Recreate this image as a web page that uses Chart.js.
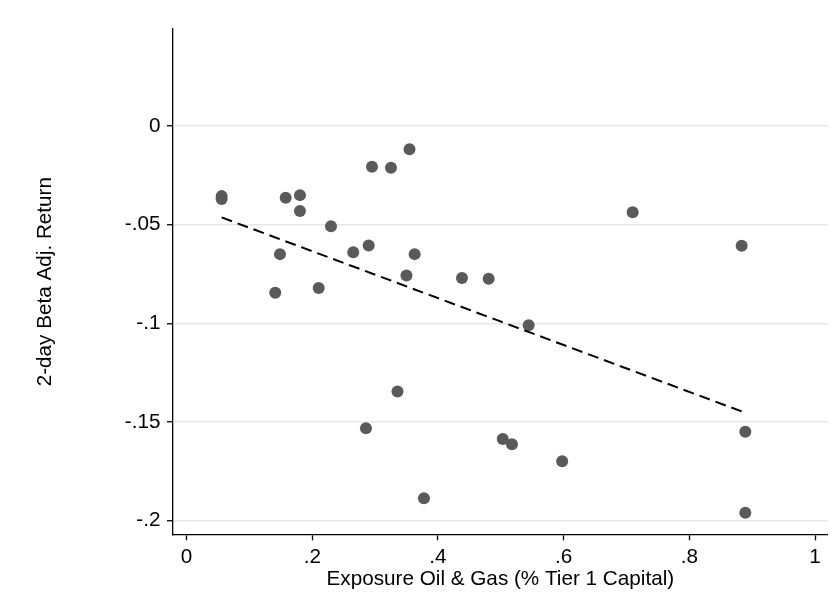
<!DOCTYPE html>
<html>
<head>
<meta charset="utf-8">
<script src="https://cdn.jsdelivr.net/npm/chart.js@4.4.1/dist/chart.umd.min.js"></script>
<style>
  html, body { margin: 0; padding: 0; background: #ffffff; }
  #wrap { width: 839px; height: 613px; position: relative; }
</style>
</head>
<body>
<div id="wrap"><canvas id="c" width="839" height="613"></canvas></div>
<script>
// Bank-level observations: oil & gas exposure vs. 2-day beta-adjusted return
const exposure = [
  0.0558, 0.0558, 0.1577, 0.1804, 0.1804, 0.2298, 0.2950, 0.3252, 0.3547,
  0.1486, 0.1411, 0.2102, 0.2652, 0.2897, 0.3629, 0.3499, 0.4382, 0.4807,
  0.5443, 0.7098, 0.8832, 0.3356, 0.8890, 0.2854, 0.5031, 0.5177, 0.5976,
  0.3777, 0.8890
];
const betaAdjReturn = [
  -0.0355, -0.0370, -0.0363, -0.0350, -0.0431, -0.0508, -0.0206, -0.0211, -0.0117,
  -0.0649, -0.0845, -0.0821, -0.0639, -0.0605, -0.0649, -0.0757, -0.0770, -0.0774,
  -0.1010, -0.0437, -0.0607, -0.1345, -0.1549, -0.1532, -0.1586, -0.1613, -0.1699,
  -0.1886, -0.1960
];

// Fitted line endpoints
const fitExposure = [0.0558, 0.8890];
const fitReturn = [-0.0463, -0.1453];

// Axis ticks
const xTickValues = [0, 0.2, 0.4, 0.6, 0.8, 1];
const xTickLabels = ['0', '.2', '.4', '.6', '.8', '1'];
const yTickValues = [0, -0.05, -0.1, -0.15, -0.2];
const yTickLabels = ['0', '-.05', '-.1', '-.15', '-.2'];

const FONT = '"Liberation Sans", Arial, Helvetica, sans-serif';
const FONT_SIZE = 20.7;

const points = exposure.map((x, i) => ({ x: x, y: betaAdjReturn[i] }));
const fitLine = fitExposure.map((x, i) => ({ x: x, y: fitReturn[i] }));

function labelFor(values, labels) {
  return function (value) {
    for (let i = 0; i < values.length; i++) {
      if (Math.abs(values[i] - value) < 1e-9) return labels[i];
    }
    return '';
  };
}

new Chart(document.getElementById('c'), {
  type: 'scatter',
  data: {
    datasets: [
      {
        type: 'line',
        data: fitLine,
        borderColor: '#000000',
        borderWidth: 2,
        borderDash: [11, 6],
        pointRadius: 0,
        fill: false,
        tension: 0
      },
      {
        type: 'scatter',
        data: points,
        pointRadius: 6,
        pointBackgroundColor: '#5a5a5a',
        pointBorderWidth: 0,
        borderWidth: 0
      }
    ]
  },
  options: {
    responsive: false,
    devicePixelRatio: 1,
    animation: false,
    layout: { padding: { left: 0, top: 29, right: 11.3, bottom: 0 } },
    plugins: {
      legend: { display: false },
      tooltip: { enabled: false }
    },
    scales: {
      x: {
        type: 'linear',
        min: -0.0216,
        max: 1.0201,
        afterBuildTicks: (s) => { s.ticks = xTickValues.map(v => ({ value: v })); },
        afterFit: (s) => { s.height = 613 - 534.3; },
        ticks: {
          callback: labelFor(xTickValues, xTickLabels),
          color: '#000000',
          font: { family: FONT, size: FONT_SIZE },
          padding: 5,
          maxRotation: 0,
          autoSkip: false
        },
        grid: {
          drawOnChartArea: false,
          drawTicks: true,
          tickLength: 6,
          tickColor: '#000000',
          tickWidth: 1.3
        },
        border: { display: true, color: '#000000', width: 1.3 },
        title: {
          display: true,
          text: 'Exposure Oil & Gas (% Tier 1 Capital)',
          color: '#000000',
          font: { family: FONT, size: FONT_SIZE },
          padding: { top: 0, bottom: 21.6 }
        }
      },
      y: {
        type: 'linear',
        min: -0.2069,
        max: 0.0492,
        afterBuildTicks: (s) => { s.ticks = yTickValues.map(v => ({ value: v })); },
        afterFit: (s) => { s.width = 173; },
        ticks: {
          callback: labelFor(yTickValues, yTickLabels),
          color: '#000000',
          font: { family: FONT, size: FONT_SIZE },
          padding: 6.5,
          autoSkip: false
        },
        grid: {
          color: '#e6e6e6',
          lineWidth: 1.5,
          drawTicks: true,
          tickLength: 6,
          tickColor: '#000000',
          tickWidth: 1.3
        },
        border: { display: true, color: '#000000', width: 1.3 },
        title: {
          display: true,
          text: '2-day Beta Adj. Return',
          color: '#000000',
          font: { family: FONT, size: FONT_SIZE },
          padding: { top: 32.6, bottom: 0 }
        }
      }
    }
  }
});
</script>
</body>
</html>
